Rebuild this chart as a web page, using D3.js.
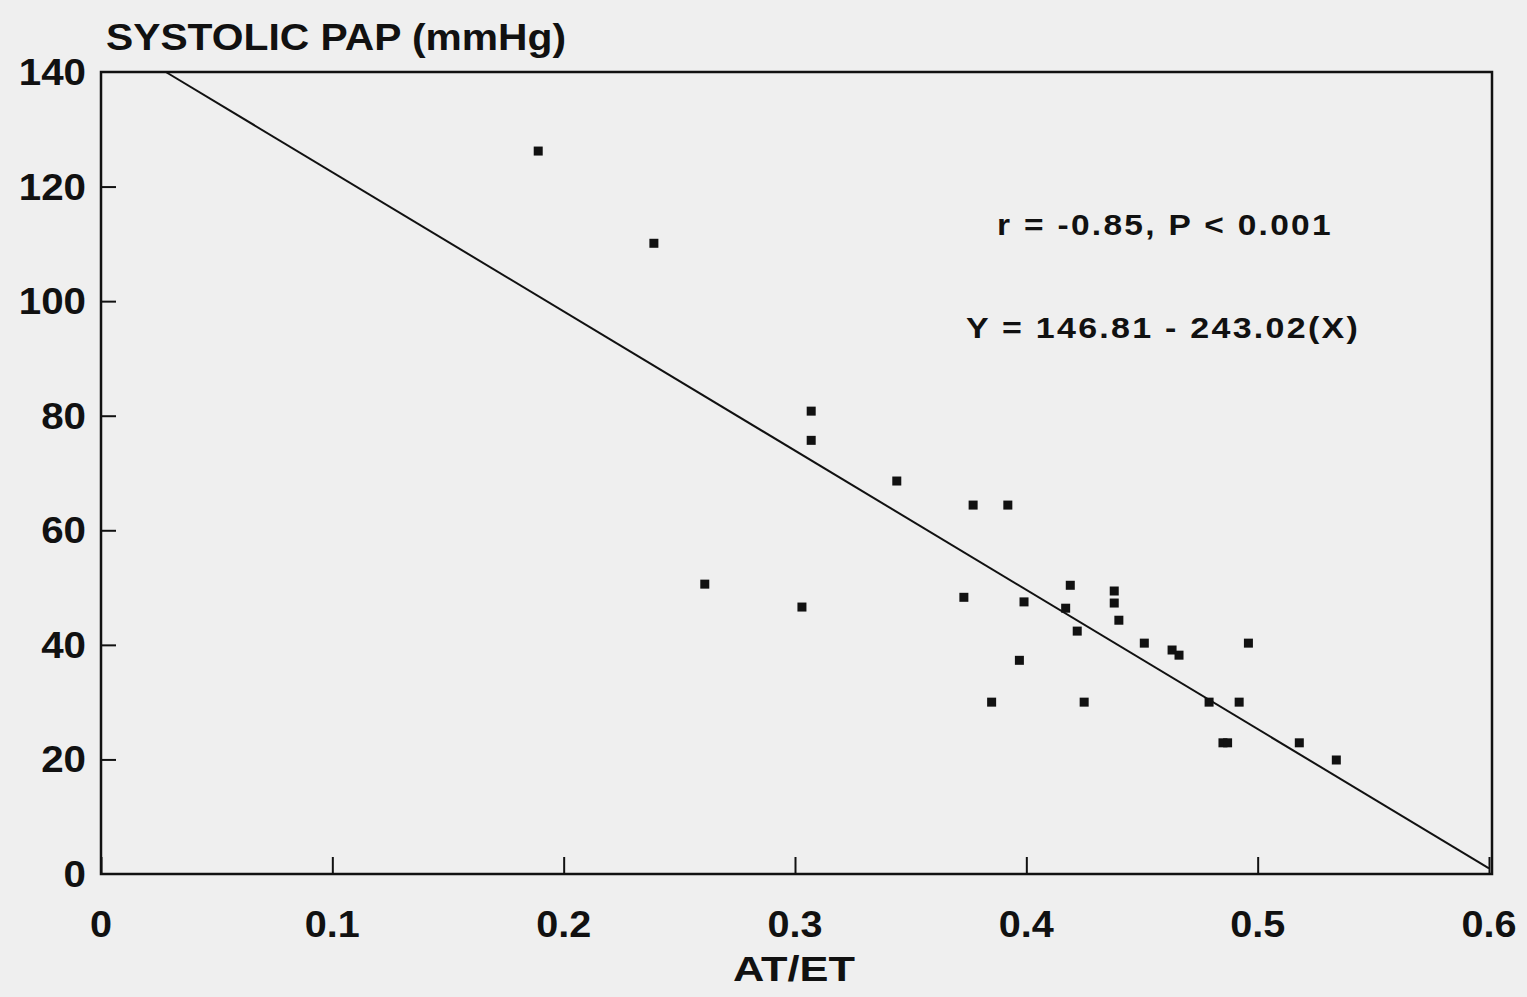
<!DOCTYPE html>
<html>
<head>
<meta charset="utf-8">
<script src="https://cdn.jsdelivr.net/npm/d3@7"></script>
<style>
  html, body { margin: 0; padding: 0; background: #efefef; }
  svg { display: block; }
  text { font-family: "Liberation Sans", Arial, Helvetica, sans-serif; font-weight: bold; fill: #111; }
</style>
</head>
<body>
<svg id="chart" width="1527" height="997"></svg>
<script>
// ---- data ----
const atEt = [0.189, 0.239, 0.261, 0.303, 0.307, 0.307, 0.344, 0.373, 0.377, 0.392,
              0.385, 0.397, 0.399, 0.419, 0.417, 0.422, 0.425, 0.438, 0.438, 0.440,
              0.451, 0.463, 0.466, 0.479, 0.492, 0.496, 0.485, 0.487, 0.518, 0.534];
const systolicPap = [126.2, 110.1, 50.6, 46.6, 80.8, 75.7, 68.6, 48.3, 64.4, 64.4,
                     30.0, 37.3, 47.5, 50.4, 46.4, 42.4, 30.0, 49.4, 47.3, 44.3,
                     40.3, 39.1, 38.2, 30.0, 30.0, 40.3, 22.9, 22.9, 22.9, 19.9];
const xTicks = [0, 0.1, 0.2, 0.3, 0.4, 0.5, 0.6];
const xTickLabels = ["0", "0.1", "0.2", "0.3", "0.4", "0.5", "0.6"];
const yTicks = [0, 20, 40, 60, 80, 100, 120, 140];
const yTickLabels = ["0", "20", "40", "60", "80", "100", "120", "140"];
const intercept = 146.81;
const slope = -243.02;
const yAxisTitle = "SYSTOLIC PAP (mmHg)";
const xAxisTitle = "AT/ET";
const statText = "r = -0.85, P < 0.001";
const eqText = "Y = 146.81 - 243.02(X)";

(function () {
// ---- layout ----
const svg = d3.select("#chart");
const pLeft = 101, pRight = 1489, pTop = 72, pBottom = 874;
const x = d3.scaleLinear().domain([0, 0.6]).range([pLeft, pRight]);
const y = d3.scaleLinear().domain([0, 140]).range([pBottom, pTop]);

// widen glyphs horizontally (reference font is a wide grotesque)
function widen(sel, factor) {
  sel.each(function () {
    const w = this.getComputedTextLength();
    d3.select(this).attr("textLength", w * factor).attr("lengthAdjust", "spacingAndGlyphs");
  });
}

svg.append("rect").attr("width", 1527).attr("height", 997).attr("fill", "#efefef");

// frame
svg.append("rect")
  .attr("x", pLeft).attr("y", pTop)
  .attr("width", pRight + 3 - pLeft).attr("height", pBottom - pTop)
  .attr("fill", "none").attr("stroke", "#111").attr("stroke-width", 2.5);

// ticks (inward)
const xAxis = d3.axisTop(x).tickValues(xTicks).tickSize(17).tickFormat("");
svg.append("g").attr("transform", `translate(0,${pBottom})`).call(xAxis)
  .call(g => g.select(".domain").remove())
  .call(g => g.selectAll("line").attr("stroke", "#111").attr("stroke-width", 2));

const yAxis = d3.axisRight(y).tickValues(yTicks.slice(1, -1)).tickSize(15).tickFormat("");
svg.append("g").attr("transform", `translate(${pLeft},0)`).call(yAxis)
  .call(g => g.select(".domain").remove())
  .call(g => g.selectAll("line").attr("stroke", "#111").attr("stroke-width", 2));

// tick labels
svg.append("g").selectAll("text").data(xTicks).join("text")
  .attr("x", d => x(d)).attr("y", 937)
  .attr("text-anchor", "middle").attr("font-size", 36)
  .text((d, i) => xTickLabels[i])
  .call(widen, 1.1);

svg.append("g").selectAll("text").data(yTicks).join("text")
  .attr("x", 86).attr("y", d => y(d) + 13)
  .attr("text-anchor", "end").attr("font-size", 36)
  .text((d, i) => yTickLabels[i])
  .call(widen, 1.12);

// axis titles
svg.append("text").attr("x", 106).attr("y", 50).attr("font-size", 36)
  .attr("textLength", 460).attr("lengthAdjust", "spacingAndGlyphs").text(yAxisTitle);
svg.append("text").attr("x", 794).attr("y", 981).attr("text-anchor", "middle")
  .attr("font-size", 35).attr("textLength", 122).attr("lengthAdjust", "spacingAndGlyphs")
  .text(xAxisTitle);

// regression line clipped to the frame
const x0 = (140 - intercept) / slope;
const x1 = 0.6;
svg.append("line")
  .attr("x1", x(x0)).attr("y1", y(intercept + slope * x0))
  .attr("x2", x(x1)).attr("y2", y(intercept + slope * x1))
  .attr("stroke", "#111").attr("stroke-width", 2);

// points
const pts = atEt.map((v, i) => ({ x: v, y: systolicPap[i] }));
svg.append("g").selectAll("rect").data(pts).join("rect")
  .attr("x", d => x(d.x) - 4.5).attr("y", d => y(d.y) - 4.5)
  .attr("width", 9).attr("height", 9).attr("fill", "#111");

// annotations
svg.append("text").attr("x", 997).attr("y", 235).attr("font-size", 29)
  .attr("letter-spacing", 2)
  .attr("textLength", 336).attr("lengthAdjust", "spacingAndGlyphs").text(statText);
svg.append("text").attr("x", 966).attr("y", 338).attr("font-size", 30)
  .attr("letter-spacing", 2)
  .attr("textLength", 394).attr("lengthAdjust", "spacingAndGlyphs").text(eqText);
})();
</script>
</body>
</html>
